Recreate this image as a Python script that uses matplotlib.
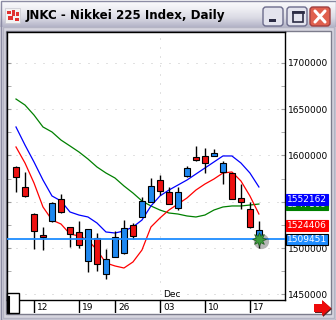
import numpy as np
import matplotlib
matplotlib.use('Agg')
import matplotlib.pyplot as plt
import matplotlib.transforms as mtransforms
from matplotlib.colors import LinearSegmentedColormap
from matplotlib.patches import Rectangle, FancyBboxPatch, Polygon

# ---- data (Nikkei 225 x100, daily) ----
dates = ['2007-11-08', '2007-11-09', '2007-11-12', '2007-11-13', '2007-11-14',
         '2007-11-15', '2007-11-16', '2007-11-19', '2007-11-20', '2007-11-21',
         '2007-11-22', '2007-11-26', '2007-11-27', '2007-11-28', '2007-11-29',
         '2007-11-30', '2007-12-03', '2007-12-04', '2007-12-05', '2007-12-06',
         '2007-12-07', '2007-12-10', '2007-12-11', '2007-12-12', '2007-12-13',
         '2007-12-14', '2007-12-17', '2007-12-18']
opens = [1587500, 1565900, 1536700, 1514000, 1529200, 1552900, 1522700, 1517300,
         1486000, 1510800, 1471900, 1490300, 1494600, 1524800, 1533500, 1549700,
         1573400, 1560500, 1543200, 1577800, 1598300, 1599400, 1599400, 1582100,
         1581000, 1554000, 1542100, 1510800]
highs = [1588600, 1582100, 1537800, 1522700, 1549700, 1558300, 1523000, 1529200,
         1521000, 1516200, 1498900, 1518400, 1530200, 1527000, 1555100, 1575600,
         1578800, 1565900, 1565900, 1588600, 1610200, 1608000, 1606900, 1594000,
         1581500, 1569100, 1549700, 1529200]
lows = [1560500, 1555100, 1498900, 1497800, 1528000, 1538000, 1501100, 1500500,
        1474100, 1475200, 1466500, 1489800, 1493500, 1509700, 1533000, 1549200,
        1557200, 1547000, 1541000, 1577000, 1594500, 1581000, 1599000, 1569100,
        1552500, 1542100, 1521600, 1500000]
closes = [1577000, 1556200, 1518400, 1511900, 1548600, 1538900, 1515100, 1503200,
          1520500, 1482700, 1488100, 1511900, 1521600, 1513000, 1550800, 1567000,
          1561600, 1547500, 1560500, 1586400, 1595000, 1591800, 1602600, 1591800,
          1552900, 1549700, 1522700, 1519400]
ma_red = [1609100, 1591800, 1570200, 1544300, 1530200, 1525900, 1515100, 1513000,
          1508600, 1497800, 1483800, 1480600, 1478400, 1484900, 1497800, 1522700,
          1532400, 1541000, 1547500, 1554000, 1562600, 1569100, 1574500, 1581000,
          1582100, 1572400, 1556200, 1536700]
ma_blue = [1630700, 1611200, 1592900, 1573400, 1556200, 1550800, 1538900, 1535600,
           1533500, 1527000, 1517300, 1516200, 1518400, 1522700, 1530200, 1545400,
           1556200, 1562600, 1568000, 1573400, 1579900, 1586400, 1592900, 1599400,
           1599400, 1591800, 1581000, 1565900]
ma_green = [1660900, 1654400, 1643600, 1630700, 1625300, 1616600, 1610200, 1603700,
            1596100, 1587500, 1581000, 1575600, 1567000, 1559400, 1550800, 1545400,
            1541000, 1537800, 1536700, 1534600, 1533500, 1535600, 1541000, 1544300,
            1545400, 1545400, 1546400, 1547500]
last_price = 1509451
value_tags = [(1547109, '#008000'), (1552162, '#0000ff'),
              (1524406, '#ff0000'), (1509451, '#1e8cff')]
price_ticks = [1450000, 1500000, 1550000, 1600000, 1650000, 1700000]
price_labels = ['1450000', '1500000', '', '1600000', '1650000', '1700000']

W, H = 336, 320
fig = plt.figure(figsize=(W / 100, H / 100), dpi=100)
fig.patch.set_facecolor('#d6d5df')


def px_axes(x0, y0, x1, y1, **kw):
    return fig.add_axes([x0 / W, 1 - y1 / H, (x1 - x0) / W, (y1 - y0) / H], **kw)


# ---- window chrome ----
chrome = px_axes(0, 0, W, H)
chrome.set_xlim(0, W)
chrome.set_ylim(H, 0)
chrome.axis('off')
cm = LinearSegmentedColormap.from_list('tb', ['#fdfdfe', '#eeeef3', '#dadae4', '#b4b4c8'])
chrome.imshow(np.linspace(0, 1, 40)[:, None], extent=(0, W, 27, 0), cmap=cm, aspect='auto')
chrome.add_patch(Rectangle((0.5, 0.5), W - 1, H - 1, fill=False, ec='#8c8ca4', lw=1))
chrome.add_patch(Rectangle((2.5, 27), W - 5, H - 29.5, fill=False, ec='#b4b4c4', lw=1))
chrome.add_patch(Rectangle((6, 31), 325, 283, fc='white', ec='#7c7c8c', lw=1))
# icon
chrome.add_patch(Rectangle((5, 8), 15, 15, fc='#f2f2f2', ec='#c8c8d0', lw=0.5))
for (ix, iy, iw, ih) in [(7, 11, 4, 3), (12, 10, 3, 6), (16, 12, 3, 4), (8, 16, 5, 4), (15, 18, 4, 3)]:
    chrome.add_patch(Rectangle((ix, iy), iw, ih, fc='#e03030', ec='none'))
chrome.text(26, 15.5, 'JNKC - Nikkei 225 Index, Daily', fontsize=8.6, fontweight='bold',
            color='black', va='center', ha='left', family='DejaVu Sans')
# buttons
for bx, fc in [(263, '#e4e4ee'), (287, '#e4e4ee'), (310, '#e0604e')]:
    chrome.add_patch(FancyBboxPatch((bx, 7), 20, 19, boxstyle='round,pad=0,rounding_size=3',
                                    fc=fc, ec='#6c6c8c' if bx < 310 else '#a04040', lw=1))
chrome.add_patch(Rectangle((269, 19), 7, 2.5, fc='#2c2c44', ec='none'))
chrome.add_patch(Rectangle((292.5, 11.5), 10, 10, fill=False, ec='#2c2c44', lw=1.2))
chrome.plot([292.5, 302.5], [12, 12], color='#2c2c44', lw=2)
chrome.plot([315, 325], [11, 22], color='white', lw=2.2, solid_capstyle='round')
chrome.plot([315, 325], [22, 11], color='white', lw=2.2, solid_capstyle='round')

# ---- price chart ----
n = len(dates)
idx = np.arange(n)
ax = px_axes(7, 32, 285, 300)
ax.set_xlim(-1.0, n - 1 + 2.9)
ax.set_ylim(1443840, 1733280)
ax.set_facecolor('white')
for s in ax.spines.values():
    s.set_color('black')
    s.set_linewidth(1)

for p in price_ticks:
    ax.axhline(p, color='#c4c4c4', lw=0.72, ls=(0, (1, 8)), zorder=0)
months = [d[5:7] for d in dates]
month_starts = [i for i in range(1, n) if months[i] != months[i - 1]]
for m in month_starts:
    ax.axvline(m, color='#c4c4c4', lw=0.72, ls=(0, (1, 8)), zorder=0)
    ax.text(m + 0.3, 0.005, 'Dec', transform=mtransforms.blended_transform_factory(ax.transData, ax.transAxes),
            fontsize=6.5, va='bottom', ha='left')

ax.plot(idx, ma_green, color='#008000', lw=0.9, zorder=2)
ax.plot(idx, ma_blue, color='#0000ff', lw=0.9, zorder=2)
ax.plot(idx, ma_red, color='#ff0000', lw=0.9, zorder=2)

o = np.array(opens)
c = np.array(closes)
colors = np.where(c > o, '#1e88f0', '#ee1111')
ax.vlines(idx, lows, highs, color='black', lw=1, zorder=3)
ax.bar(idx, np.abs(c - o), bottom=np.minimum(o, c), width=0.58, color=colors,
       edgecolor='black', linewidth=0.8, zorder=4)

ax.axhline(last_price, color='#1e8cff', lw=1.3, zorder=5)
shadow = mtransforms.offset_copy(ax.transData, fig=fig, x=2, y=-2, units='dots')
ax.plot([idx[-1]], [last_price], marker='o', ms=11, color='#303030', alpha=0.35,
        mec='none', transform=shadow, zorder=6, clip_on=False)
ax.plot([idx[-1]], [last_price], marker=(8, 1, 0), ms=10, color='#3c9c3c',
        mec='#1c5c1c', mew=0.5, zorder=7, clip_on=False)

ax.set_xticks([])
ax.set_yticks(price_ticks)
ax.set_yticklabels(price_labels)
ax.set_yticks(np.arange(1450000, 1725000, 25000), minor=True)
ax.tick_params(axis='y', which='both', left=True, right=True, labelleft=False,
               labelright=True, direction='in', length=3, color='#a0a0a0',
               labelsize=6.5, pad=2)

tag_tr = mtransforms.blended_transform_factory(ax.transAxes, ax.transData)
for val, col in value_tags:
    ax.text(1.006, val, str(val), transform=tag_tr, fontsize=6.5, color='white',
            va='center', ha='left', clip_on=False, zorder=8,
            bbox=dict(boxstyle='square,pad=0.12', fc=col,
                      ec='black' if val == last_price else col, lw=0.8))

# ---- date band ----
band = px_axes(7, 300, 285, 313)
band.set_xlim(ax.get_xlim())
band.set_ylim(0, 1)
band.axis('off')
days = [d[8:10] for d in dates]
weekday = [np.datetime64(d).astype('datetime64[D]').astype(int) % 7 for d in dates]
mondays = [i for i in range(n) if weekday[i] == 4]
for i in mondays:
    band.axvline(i, color='black', lw=1)
    band.text(i + 0.35, 0.45, days[i], fontsize=6.5, va='center', ha='left')

# ---- overlay widgets ----
over = px_axes(0, 0, W, H)
over.set_xlim(0, W)
over.set_ylim(H, 0)
over.axis('off')
over.add_patch(Rectangle((7, 293), 12, 20, fc='white', ec='black', lw=1))
over.plot([8.5, 8.5], [297, 312], color='black', lw=1.5)
arrow = [(314, 304), (322, 304), (322, 300), (331, 308), (322, 316), (322, 312), (314, 312)]
over.add_patch(Polygon([(x + 1, y + 1) for x, y in arrow], fc='#602020', ec='none'))
over.add_patch(Polygon(arrow, fc='#ee0a0a', ec='none'))

fig.savefig('out.png', dpi=100)
